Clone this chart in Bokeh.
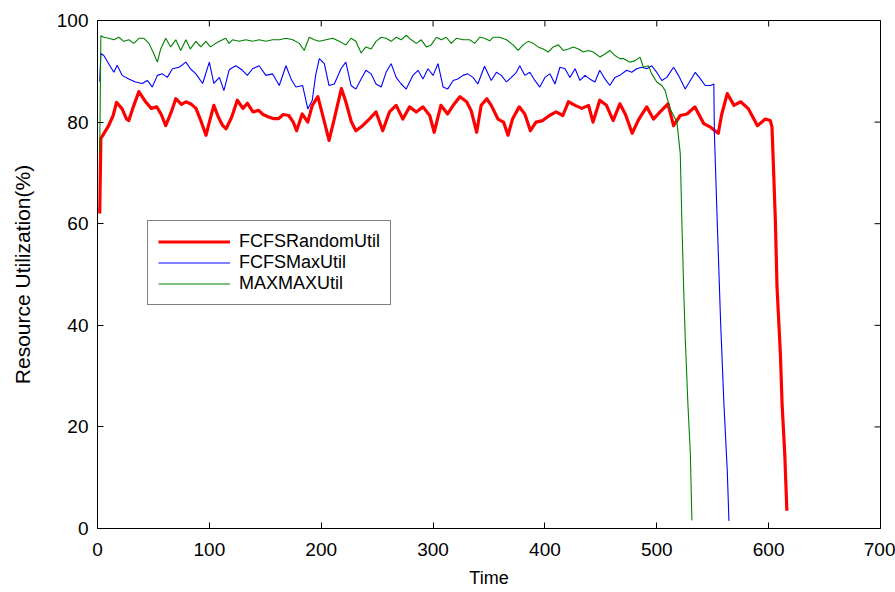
import math
from bokeh.plotting import figure
from bokeh.models import Range1d, FixedTicker, Legend, LegendItem
from bokeh.embed import file_html
from bokeh.resources import INLINE

# ---------------- data ----------------
x_ticks = [0, 100, 200, 300, 400, 500, 600, 700]
y_ticks = [0, 20, 40, 60, 80, 100]

red_time = [2, 3, 5, 10, 14, 17, 22, 26, 28, 32, 37, 43, 48, 53, 57, 61, 66, 70, 75, 79,
            84, 88, 92, 97, 100, 104, 108, 112, 115, 120, 125, 130, 134, 139, 144, 148, 153,
            157, 162, 166, 171, 175, 178, 183, 188, 192, 197, 201, 207, 211, 218, 222, 227,
            231, 237, 243, 249, 255, 261, 267, 273, 279, 285, 291, 297, 301, 307, 313, 318,
            324, 330, 334, 339, 343, 348, 352, 358, 363, 367, 371, 377, 382, 387, 392, 398,
            404, 410, 416, 421, 427, 433, 439, 443, 449, 455, 461, 467, 472, 478, 484, 491,
            497, 503, 510, 515, 521, 527, 534, 542, 548, 552, 555, 558, 563, 569, 575, 582,
            590, 597, 601.5, 603, 604.5, 606, 607.5, 610.5, 612, 614.4, 616.3]
red_util = [62, 76.8, 77.5, 79.3, 81.3, 83.9, 82.6, 80.6, 80.3, 83, 86, 84, 82.7, 83, 81.5,
            79.3, 82, 84.6, 83.5, 84, 83.5, 82.7, 80.5, 77.4, 80, 83.3, 81, 79.3, 78.7, 81,
            84.3, 82.7, 83.7, 82, 82.3, 81.5, 81, 80.7, 80.7, 81.5, 81.3, 80, 78.3, 81.6, 80,
            83.3, 85, 81.6, 76.4, 80, 86.6, 84, 80, 78.3, 79.3, 80.6, 82, 78.3, 82, 83.3, 80.6,
            83, 82, 83, 81.3, 78, 83.3, 81.6, 83.3, 85, 84, 82.3, 78, 83.3, 84.6, 83.3, 80.6,
            80, 77.4, 80.6, 83, 81.6, 78.3, 80, 80.3, 81.3, 82, 81.3, 84, 83.3, 82.7, 83.3, 80,
            84.3, 83.3, 80.3, 83.6, 81.5, 77.8, 80.6, 83, 80.6, 82, 83.6, 79.3, 81.3, 81.6, 83,
            79.7, 79, 78.3, 77.8, 81.5, 85.6, 83.3, 84, 82.6, 79.3, 80.6, 80.3, 79, 70, 60.6,
            47.5, 34.4, 24.6, 14.7, 3.5]

blue_time = [2, 3, 5.6, 10, 14.6, 17.6, 22, 28, 34, 40, 44.5, 49, 53.5, 58, 62.4, 67, 73, 79,
             83, 88, 94, 100, 104, 109, 113, 117.6, 119, 123.7, 129.6, 134, 138.6, 144.5,
             150.5, 156.5, 162.5, 168.5, 173, 177.4, 183.4, 188, 192, 195, 198.3, 202.8, 207,
             211.7, 217.7, 222, 226.7, 231, 235.7, 240, 244.6, 249, 253.6, 258, 262.5, 267,
             271.5, 276, 282, 286.5, 291, 295.4, 300, 304.4, 309, 313, 318, 322, 326.8, 331,
             335.7, 340, 346, 352, 356.6, 361, 365.6, 370, 374.5, 377.5, 382, 386.5, 391,
             395.4, 400, 404.4, 409, 413.4, 418, 422.3, 427, 431.3, 435.8, 440, 444.7, 449,
             453.7, 458, 462.6, 467, 473, 477.6, 482, 486.6, 491, 495.5, 500, 504.5, 509, 515,
             519.4, 525.4, 530, 534.4, 539, 543.3, 548, 551, 551.5, 554, 557, 560, 563, 564.5]
blue_util = [88, 93.5, 93.1, 91.5, 89.8, 91.2, 89.2, 88.5, 87.9, 87.6, 88.2, 86.9, 89.2, 89.5,
             88.8, 90.5, 90.8, 91.8, 90.5, 89.5, 87.6, 91.8, 87.6, 88.8, 86.2, 90.2, 90.5, 91.1,
             90.2, 89.2, 90.5, 91.1, 89.2, 89.5, 87.2, 91.1, 88.5, 86.9, 87.2, 82.6, 84.3, 89.2,
             92.5, 91.5, 87.2, 87.5, 90.5, 91.8, 87.2, 86.5, 88.5, 90.2, 89.5, 87.5, 86.9, 89.8,
             91.5, 88.8, 87.5, 86.5, 89.2, 90.2, 88.5, 90.5, 89.2, 91.5, 86.9, 86.5, 88.2, 88.5,
             89.2, 89.5, 88.8, 87.5, 91, 88.2, 89.8, 89.2, 87.9, 88.8, 89.8, 91.1, 89.2, 89.8,
             88.2, 86.9, 88.8, 89.5, 87.5, 90.8, 90.5, 88.8, 90.5, 88.2, 89.2, 88.5, 87.9, 90.2,
             88.5, 87.2, 88.8, 89.2, 90.2, 89.8, 90.5, 90.8, 90.5, 91.1, 89.8, 88.2, 88.8, 90.8,
             89.2, 86.5, 88.2, 89.8, 88.5, 87.2, 87.2, 87.5, 77.8, 60.6, 41, 24.6, 11.4, 1.5]

green_time = [2, 3, 5.6, 10, 14.6, 19, 23.6, 28, 32.5, 37, 41.5, 46, 50.5, 53.5, 56.5, 61, 65.4,
              70, 74.4, 79, 83, 88, 92.3, 96.8, 101, 105.7, 111.7, 114.7, 117.6, 120.7, 126.6,
              132.6, 138.6, 144.5, 150.5, 156.5, 162.5, 168.5, 174.5, 180.4, 184.8, 189.3,
              193.8, 198.3, 204.3, 210.3, 216, 222, 226.7, 231, 235.7, 240, 244.6, 249, 253.6,
              258, 262.5, 267, 271.5, 276, 280.5, 285, 289.4, 294, 298.4, 303, 307.3, 311.8,
              316.3, 320.8, 326.8, 332.7, 337.2, 341.7, 346, 350.6, 353.7, 359.6, 365.6, 371.6,
              376, 380.5, 385, 389.5, 394, 398.5, 403, 407.4, 412, 416.4, 421, 425.4, 430, 434.3,
              438.8, 443.2, 449.2, 453.7, 458, 462.6, 467, 470, 476, 480.6, 485, 488, 492.5,
              495.5, 500, 504.5, 507.5, 509, 512, 516.4, 518, 521, 522.4, 524, 525.4, 527.8,
              530, 531.4]
green_util = [74, 97, 96.7, 96.5, 96.2, 96.7, 95.9, 96.2, 95.5, 96.5, 96.5, 95.5, 93.4, 91.8,
              94.4, 96.5, 94.8, 96.2, 94.1, 96.2, 94.4, 95.9, 94.8, 95.9, 94.8, 95.5, 96.2, 96.5,
              95.5, 96.2, 95.9, 96.2, 95.9, 96.2, 95.9, 96.2, 96.2, 96.5, 96.2, 95.5, 94.1, 96.7,
              96.2, 95.9, 96.2, 96.5, 95.9, 95.2, 96.5, 95.9, 93.6, 94.8, 94.4, 95.9, 96.7, 96.5,
              95.9, 96.7, 96.2, 97.1, 96.2, 95.5, 96.2, 94.8, 95.2, 96.7, 96.2, 96.7, 95.5, 96.5,
              96.2, 96.2, 95.5, 96.7, 96.5, 96, 96.7, 96.7, 96.2, 95.2, 94.1, 95.2, 95.9, 95.5,
              94.8, 94.4, 93.8, 94.8, 95.2, 94.1, 94.4, 94.8, 94.4, 93.8, 94.1, 93.8, 92.8, 93.4,
              94.1, 93.1, 92.5, 92.5, 91.8, 92.1, 92.8, 90.8, 91.1, 89.5, 87.9, 87.2, 86.2, 84.9,
              82.6, 80.7, 80, 73.8, 60.6, 47.5, 37.7, 24.6, 14.7, 1.6]

series_names = ["FCFSRandomUtil", "FCFSMaxUtil", "MAXMAXUtil"]
series_colors = ["#ff0000", "#0000ff", "#008000"]

# ---------------- figure ----------------
FONT = "Liberation Sans"
X_MIN, X_MAX = 0, 700
Y_MIN, Y_MAX = 0, 100

p = figure(width=895, height=592, output_backend="svg", toolbar_location=None,
           x_range=Range1d(X_MIN, X_MAX), y_range=Range1d(Y_MIN, Y_MAX),
           min_border_left=97, min_border_right=15, min_border_top=20, min_border_bottom=64)
p.background_fill_color = "white"
p.border_fill_color = "white"
p.xgrid.visible = False
p.ygrid.visible = False
p.outline_line_color = "black"
p.outline_line_alpha = 1.0
p.outline_line_width = 1


def style_axis(ax, ticks):
    ax.ticker = FixedTicker(ticks=ticks)
    ax.major_tick_in = 6
    ax.major_tick_out = 0
    ax.minor_tick_in = 0
    ax.minor_tick_out = 0
    ax.axis_line_color = "black"
    ax.major_tick_line_color = "black"
    ax.major_label_text_font = FONT
    ax.major_label_text_color = "black"
    ax.axis_label_text_font = FONT
    ax.axis_label_text_font_style = "normal"
    ax.axis_label_text_color = "black"


style_axis(p.xaxis[0], x_ticks)
style_axis(p.yaxis[0], y_ticks)
p.xaxis[0].axis_label = "Time"
p.xaxis[0].major_label_text_font_size = "19px"
p.xaxis[0].major_label_standoff = 14
p.xaxis[0].axis_label_text_font_size = "18px"
p.xaxis[0].axis_label_standoff = 9
p.yaxis[0].axis_label = "Resource Utilization(%)"
p.yaxis[0].major_label_text_font_size = "19px"
p.yaxis[0].major_label_standoff = 9
p.yaxis[0].axis_label_text_font_size = "21px"
p.yaxis[0].axis_label_standoff = 20

# mirrored inner tick marks on top and right edges (MATLAB box style);
# markers are centred on the frame edge and clipped by it, so only the inner half shows
p.scatter(x_ticks, [Y_MAX] * len(x_ticks), marker="dash", size=12, angle=math.pi / 2,
          line_color="black", line_width=1)
p.scatter([X_MAX] * len(y_ticks), y_ticks, marker="dash", size=12,
          line_color="black", line_width=1)

# ---------------- lines ----------------
r_red = p.line(red_time, red_util, line_color=series_colors[0], line_width=3.2,
               line_join="round")
r_blue = p.line(blue_time, blue_util, line_color=series_colors[1], line_width=1.1)
r_green = p.line(green_time, green_util, line_color=series_colors[2], line_width=1.1)

legend = Legend(items=[LegendItem(label=series_names[0], renderers=[r_red]),
                       LegendItem(label=series_names[1], renderers=[r_blue]),
                       LegendItem(label=series_names[2], renderers=[r_green])],
                location=(50, 223))
legend.label_text_font = FONT
legend.label_text_font_size = "18px"
legend.label_text_color = "black"
legend.glyph_width = 72
legend.glyph_height = 21
legend.label_height = 21
legend.label_standoff = 9
legend.spacing = 0
legend.padding = 10
legend.margin = 0
legend.border_line_color = "black"
legend.border_line_width = 1
legend.background_fill_color = "white"
legend.background_fill_alpha = 1.0
p.add_layout(legend)

open("out.html", "w").write(file_html(p, INLINE))
